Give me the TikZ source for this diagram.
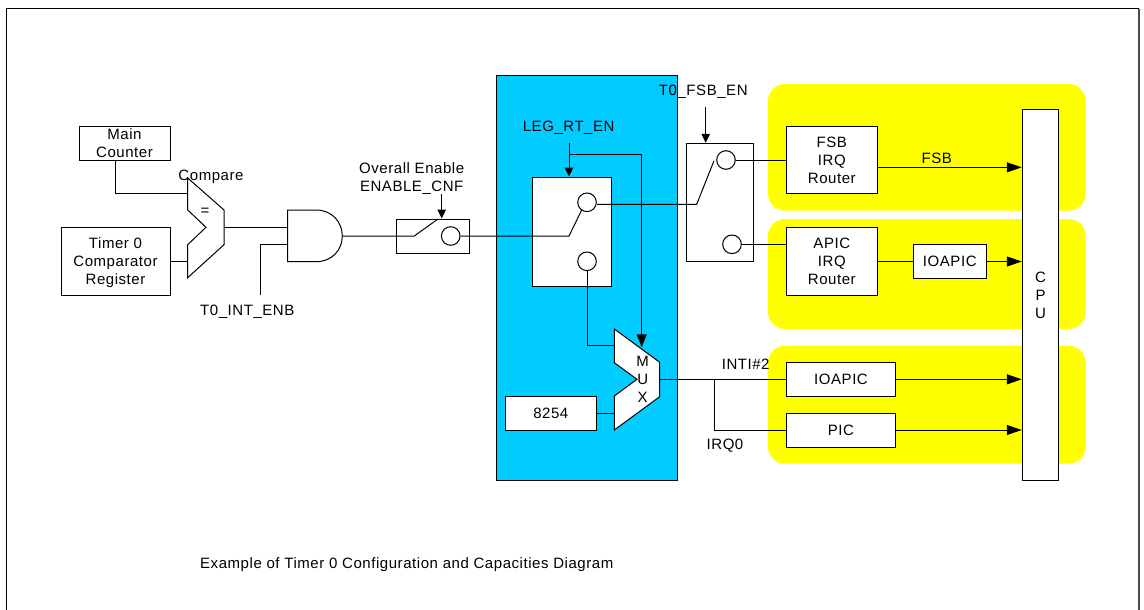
\documentclass[tikz,border=0pt]{standalone}
\usepackage{fontspec}
\setmainfont[LetterSpace=3.7]{Liberation Sans}
\usetikzlibrary{arrows.meta,calc}
\definecolor{zoneyellow}{RGB}{255,255,0}
\definecolor{panelblue}{RGB}{0,204,255}
\tikzset{
  wire/.style={draw=black,line width=1pt},
  box/.style={draw=black,line width=1pt,fill=white,inner sep=0pt,align=center,font=\fontsize{15}{18}\selectfont},
  lab/.style={inner sep=0pt,text height=10.7pt,text depth=0pt,font=\fontsize{15}{18}\selectfont},
  port/.style={circle,draw=black,line width=1pt,fill=white,inner sep=0pt,minimum size=18.6pt},
  zone/.style={fill=zoneyellow,rounded corners=17pt},
  tipS/.style={-{Triangle[length=9pt,width=8.5pt]}},
  tipL/.style={-{Triangle[length=15pt,width=10pt]}},
  tipM/.style={-{Triangle[length=13pt,width=10pt]}}
}
\newcommand{\bx}[7]{\node[box,minimum width=#4pt-#2pt,minimum height=#5pt-#3pt] (#1) at ({(#2+#4)/2},{(#3+#5)/2}) {#6};}
\begin{document}
\begin{tikzpicture}[x=1pt,y=-1pt]
\useasboundingbox (0,0) rectangle (1144,610);
\fill[white] (0,0) rectangle (1144,610);
% page frame
\coordinate (fa) at (6.5,610); \coordinate (fb) at (6.5,8.7);
\coordinate (fc) at (1139,8.7); \coordinate (fd) at (1139,610);
\draw[line width=1.1pt] (fa) -- (fb) -- (fc);
\draw[line width=1.1pt,draw=black!70] (fc) -- (fd);
% zones
\fill[zone] (768,84) rectangle (1085.7,210.7);
\fill[zone] (768,219) rectangle (1085.7,329);
\fill[zone] (768,345.7) rectangle (1085.7,463.7);
\draw[line width=1pt,fill=panelblue] (496,75.7) rectangle (677.7,480.7);
% boxes
\bx{main}{79}{126}{170}{160}{Main\\Counter}{}
\bx{timer}{61}{227}{170}{295}{Timer 0\\Comparator\\\smash{Register}}{}
\bx{swa}{396.3}{219}{469.3}{253}{}{}
\bx{swb}{532.3}{177}{611.3}{286.7}{}{}
\bx{swc}{686.7}{143.3}{753.3}{261.3}{}{}
\bx{fsb}{786.3}{126.3}{877.3}{193.7}{FSB\\IRQ\\Router}{}
\bx{apic}{786.3}{227.7}{877.3}{295}{APIC\\IRQ\\Router}{}
\bx{ioa}{913.3}{244.3}{986.3}{278.3}{IOAPIC}{}
\bx{iob}{786.3}{362.3}{895.7}{396.3}{IOAPIC}{}
\bx{pic}{786.3}{413}{895.7}{447}{PIC}{}
\bx{cpu}{1022.3}{109.3}{1058.7}{480.7}{C\\P\\U}{}
\bx{old}{505.3}{396}{596.3}{430.3}{8254}{}
% comparator
\coordinate (ca) at (187.7,178); \coordinate (cb) at (224,210); \coordinate (cc) at (224,244.7);
\coordinate (cd) at (187.7,277.7); \coordinate (ce) at (187.7,244.7); \coordinate (cf) at (206,227.3);
\coordinate (cg) at (187.7,210);
\draw[line width=1pt,fill=white] (ca)--(cb)--(cc)--(cd)--(ce)--(cf)--(cg)--cycle;
% mux
\coordinate (ma) at (614.3,329); \coordinate (mb) at (659.7,362.3); \coordinate (mc) at (659.7,396.7);
\coordinate (md) at (614.3,430); \coordinate (me) at (614.3,396); \coordinate (mf) at (637,379.3);
\coordinate (mg) at (614.3,362.7);
\draw[line width=1pt,fill=white] (ma)--(mb)--(mc)--(md)--(me)--(mf)--(mg)--cycle;
% AND gate
\coordinate (ga) at (287.7,210); \coordinate (gb) at (316,210); \coordinate (gc) at (342.3,236);
\coordinate (gd) at (316,261.7); \coordinate (ge) at (287.7,261.7);
\draw[line width=1pt,fill=white] (ga)--(gb) .. controls (332,210) and (342.3,222) .. (gc)
  .. controls (342.3,250) and (332,261.7) .. (gd)--(ge)--cycle;
% ports
\node[port] (pa) at (450.7,236) {};
\node[port] (pb) at (587,202.3) {};
\node[port] (pc) at (587,261.3) {};
\node[port] (pd) at (726,160) {};
\node[port] (pe) at (732,244.3) {};
% wires, left part
\coordinate (w1) at (115.3,193.3);
\coordinate (w2) at (187.7,261);
\coordinate (w3) at (287.7,227.3);
\coordinate (w4) at (260.7,295);
\coordinate (w5) at (287.7,244.7);
\draw[wire] (main.south -| w1) -- (w1) -- (w1 -| ca);
\draw[wire] (timer.east |- w2) -- (w2);
\draw[wire] (cb |- w3) -- (w3);
\draw[wire] (w4) -- (w4 |- w5) -- (w5);
% switch A
\coordinate (sa1) at (414.3,236);
\coordinate (sa2) at (438,219);
\draw[wire] (gc) -- (sa1) -- (sa2);
% switch B
\coordinate (sb1) at (569,236);
\coordinate (sb2) at (581.7,210);
\draw[wire] (pa.east) -- (sb1) -- (sb2);
% switch C
\coordinate (sc1) at (696.7,204.3);
\coordinate (sc2) at (714,160.7);
\draw[wire] (pb.east |- sc1) -- (sc1) -- (sc2);
\draw[wire] (pd.east) -- (fsb.west |- pd);
\draw[wire] (pe.east) -- (apic.west |- pe);
% mux inputs
\coordinate (mi1) at (587,345.7);
\draw[wire] (pc.south) -- (mi1) -- (mi1 -| ma);
\coordinate (mi2) at (614.3,413.3);
\draw[wire] (old.east |- mi2) -- (mi2);
% control arrows
\coordinate (ca1) at (441.7,194);
\draw[wire,tipS] (ca1) -- (ca1 |- swa.north);
\coordinate (ca2) at (705.7,107.3);
\draw[wire,tipS] (ca2) -- (ca2 |- swc.north);
\coordinate (ca3) at (569,143.3);
\draw[wire,tipS] (ca3) -- (ca3 |- swb.north);
\coordinate (ca4) at (569,154.7);
\coordinate (ca5) at (641.7,154.7);
\coordinate (ca6) at (641.7,347.3);
\draw[wire,tipM] (ca4) -- (ca5) -- (ca6);
% mux output
\coordinate (mo) at (659.7,379.3);
\coordinate (mo2) at (714,379.3);
\coordinate (mo3) at (714,430);
\draw[wire] (mo) -- (iob.west |- mo);
\draw[wire] (mo2) -- (mo3) -- (pic.west |- mo3);
% right side
\coordinate (ra) at (877.3,167.3);
\draw[wire,tipL] (ra) -- (cpu.west |- ra);
\coordinate (rb) at (913.3,261.5);
\draw[wire] (apic.east |- rb) -- (rb);
\draw[wire,tipL] (ioa.east |- rb) -- (cpu.west |- rb);
\draw[wire,tipL] (iob.east) -- (cpu.west |- iob.east);
\draw[wire,tipL] (pic.east) -- (cpu.west |- pic.east);
% labels
\node[lab] (lcomp) at (211,175) {Compare};
\node[lab] (leq) at (205,210) {=};
\node[lab] (lint) at (247.3,310) {T0\_INT\_ENB};
\node[lab] (lov) at (411.7,168) {Overall Enable};
\node[lab] (len) at (411.7,186) {ENABLE\_CNF};
\node[lab] (lleg) at (568.7,125.7) {LEG\_RT\_EN};
\node[lab] (lt0) at (703.3,90) {T0\_FSB\_EN};
\node[lab] (lm) at (642.7,360.7) {M};
\node[lab] (lu) at (642.7,379) {U};
\node[lab] (lx) at (642.7,397) {X};
\node[lab] (lin) at (745.7,364) {INTI\#2};
\node[lab] (lirq) at (725,443.7) {IRQ0};
\node[lab] (lfsb) at (936.7,158) {FSB};
\node[lab,anchor=west] (lcap) at (200,563) {Example of Timer 0 Configuration and Capacities Diagram};
\end{tikzpicture}
\end{document}
